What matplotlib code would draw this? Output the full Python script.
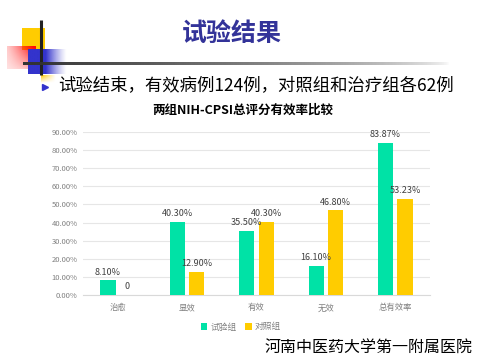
import numpy as np
import matplotlib
matplotlib.use("Agg")
import matplotlib.pyplot as plt
from matplotlib.ticker import FuncFormatter

plt.rcParams['font.family'] = ['Noto Sans CJK SC', 'DejaVu Sans']

categories = ['治愈', '显效', '有效', '无效', '总有效率']
trial = [8.10, 40.30, 35.50, 16.10, 83.87]
control = [0, 12.90, 40.30, 46.80, 53.23]
trial_labels = ['8.10%', '40.30%', '35.50%', '16.10%', '83.87%']
control_labels = ['0', '12.90%', '40.30%', '46.80%', '53.23%']
series_names = ['试验组', '对照组']
yticks = [0, 10, 20, 30, 40, 50, 60, 70, 80, 90]

GREEN = '#00E2A6'
YELLOW = '#FFCC00'

W, H = 480, 360
fig = plt.figure(figsize=(W / 100, H / 100), dpi=100)

# decorative overlay in pixel coords
ov = fig.add_axes([0, 0, 1, 1], zorder=0)
ov.set_xlim(0, W)
ov.set_ylim(H, 0)
ov.axis('off')

def rgba_img(color, alpha):
    c = matplotlib.colors.to_rgb(color)
    img = np.zeros(alpha.shape + (4,))
    img[..., 0], img[..., 1], img[..., 2] = c
    img[..., 3] = np.clip(alpha, 0, 1)
    return img

# yellow square
ov.imshow(rgba_img(YELLOW, np.ones((2, 2))), extent=(22, 45, 50, 28), aspect='auto', zorder=1)
yy = np.linspace(1, 0, 20)[:, None]
xx = np.linspace(1, 0, 30)[None, :]
ov.imshow(rgba_img(YELLOW, yy * xx), extent=(41, 56, 83, 75), aspect='auto', zorder=1)
# red gradient square (strong at top-right, fading to bottom-left)
xn = np.linspace(0, 1, 60)[None, :]
yn = np.linspace(0, 1, 40)[:, None]
alpha_r = 0.12 + 0.88 * (xn ** 1.2) * (1 - 0.75 * yn) + 0.1 * (1 - yn)
ov.imshow(rgba_img('#FF0A0A', alpha_r), extent=(7, 36, 69, 46), aspect='auto', zorder=2)
# blue gradient square
xb = np.concatenate([np.ones(45), np.linspace(1, 0, 55) ** 1.3])
ov.imshow(rgba_img('#3333CC', np.ones((10, 1)) * xb[None, :]), extent=(28, 67, 74, 49), aspect='auto', zorder=3)
# lines
ov.plot([41, 41], [20, 75], color='#222222', lw=2.2, zorder=5, solid_capstyle='butt')
xl = np.linspace(1, 0, 300) ** 0.6
ov.imshow(rgba_img('#333333', np.ones((2, 1)) * xl[None, :]), extent=(23, 450, 65.5, 62.5), aspect='auto', zorder=5)

# slide title
ov.text(232, 34, '试验结果', ha='center', va='center', fontsize=18, fontweight='bold', color='#333399', zorder=6)
# bullet
ov.plot([45], [87], marker='>', markersize=4, color='#3333CC', zorder=6)
ov.text(58, 85, '试验结束，有效病例124例，对照组和治疗组各62例', ha='left', va='center',
        fontsize=12.5, color='black', zorder=6)
# chart title
ov.text(243, 110, '两组NIH-CPSI总评分有效率比较', ha='center', va='center', fontsize=9,
        fontweight='bold', color='black', zorder=6)
# footer
ov.text(473, 347, '河南中医药大学第一附属医院', ha='right', va='center', fontsize=11.5, color='black', zorder=6)

# chart axes
ax = fig.add_axes([83 / W, 1 - 295 / H, (430 - 83) / W, (295 - 132) / H], zorder=2)
ax.patch.set_alpha(0)
x = np.arange(len(categories))
bw = 0.22
off = 0.14
ax.bar(x - off, trial, bw, color=GREEN, label=series_names[0], zorder=3)
ax.bar(x + off, control, bw, color=YELLOW, label=series_names[1], zorder=3)
for xi, v, lab in zip(x - off, trial, trial_labels):
    ax.text(xi, v + 2, lab, ha='center', va='bottom', fontsize=6.5, color='#404040', zorder=4)
for xi, v, lab in zip(x + off, control, control_labels):
    ax.text(xi, v + 2, lab, ha='center', va='bottom', fontsize=6.5, color='#404040', zorder=4)

ax.set_xlim(-0.5, len(categories) - 0.5)
ax.set_ylim(0, 90)
ax.set_yticks(yticks)
ax.yaxis.set_major_formatter(FuncFormatter(lambda v, p: f'{v:.2f}%'))
ax.set_xticks(x)
ax.set_xticklabels(categories)
ax.tick_params(axis='both', length=0, labelcolor='#808080')
ax.tick_params(axis='y', pad=4, labelsize=5.5)
ax.tick_params(axis='x', pad=6, labelsize=6)
ax.grid(axis='y', color='#E6E6E6', lw=0.8, zorder=0)
for s in ['top', 'right', 'left']:
    ax.spines[s].set_visible(False)
ax.spines['bottom'].set_color('#D9D9D9')
ax.spines['bottom'].set_linewidth(0.8)

leg = ax.legend(loc='center', bbox_to_anchor=(241 / W, 1 - 327 / H), bbox_transform=fig.transFigure,
                ncol=2, frameon=False, fontsize=6.3, handlelength=0.7, handleheight=0.7,
                columnspacing=1.0, handletextpad=0.4)
for t in leg.get_texts():
    t.set_color('#808080')

fig.savefig('out.png', dpi=100)
